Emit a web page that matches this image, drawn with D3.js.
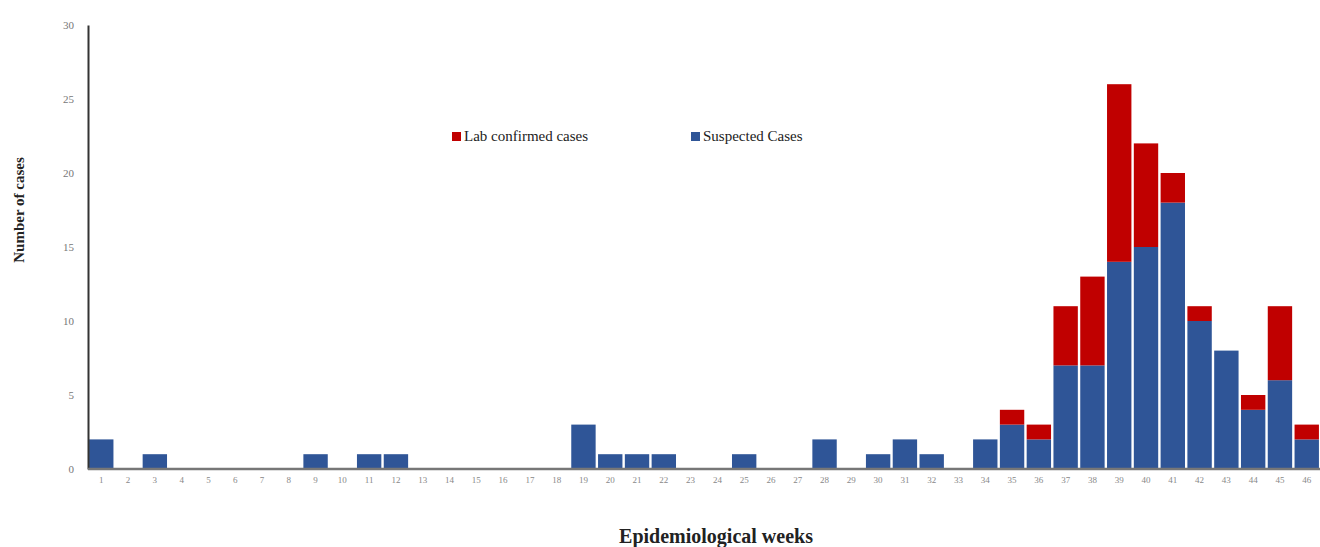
<!DOCTYPE html>
<html>
<head>
<meta charset="utf-8">
<script src="https://d3js.org/d3.v7.min.js"></script>
<style>
  body { margin: 0; background: #fff; }
  svg { display: block; font-family: "Liberation Serif", "DejaVu Serif", serif; }
</style>
</head>
<body>
<svg width="1320" height="547"></svg>
<script>
// epidemiological weeks 1..46
var weeks = d3.range(1, 47);
var suspected = [2,0,1,0,0,0,0,0,1,0, 1,1,0,0,0,0,0,0,3,1, 1,1,0,0,1,0,0,2,0,1,
                 2,1,0,2,3,2,7,7,14,15, 18,10,8,4,6,2];
var confirmed = [0,0,0,0,0,0,0,0,0,0, 0,0,0,0,0,0,0,0,0,0, 0,0,0,0,0,0,0,0,0,0,
                 0,0,0,0,1,1,4,6,12,7, 2,1,0,1,5,1];
var seriesNames = ["Suspected Cases", "Lab confirmed cases"];
var colors = ["#2f5597", "#c00000"];
var yTicks = [0, 5, 10, 15, 20, 25, 30];

var svg = d3.select("svg");
var plotLeft = 88, plotRight = 1320, plotTop = 25, plotBottom = 469;

var x = d3.scaleBand().domain(weeks).range([plotLeft, plotRight]).paddingInner(0.09).paddingOuter(0.04);
var y = d3.scaleLinear().domain([0, 30]).range([plotBottom, plotTop]);

var rows = weeks.map(function(w, i) {
  return { week: w, s: suspected[i], c: confirmed[i] };
});
var stacked = d3.stack().keys(["s", "c"])(rows);

svg.append("g").selectAll("g")
  .data(stacked)
  .join("g")
  .attr("fill", function(d, i) { return colors[i]; })
  .selectAll("rect")
  .data(function(d) { return d; })
  .join("rect")
  .attr("x", function(d) { return x(d.data.week); })
  .attr("width", x.bandwidth())
  .attr("y", function(d) { return y(d[1]); })
  .attr("height", function(d) { return y(d[0]) - y(d[1]); });

// y axis
var yAxis = svg.append("g")
  .attr("transform", "translate(" + plotLeft + ",0)")
  .call(d3.axisLeft(y).tickValues(yTicks).tickSize(0).tickPadding(14));
yAxis.select(".domain").attr("stroke", "#333").attr("stroke-width", 2);
yAxis.selectAll("text").attr("fill", "#777").style("font-size", "11px")
  .style("font-family", "'Liberation Serif', serif");

// x axis
var xAxis = svg.append("g")
  .attr("transform", "translate(0," + plotBottom + ")")
  .call(d3.axisBottom(x).tickSize(0).tickPadding(8));
xAxis.select(".domain").attr("d", "M" + plotLeft + ",0H" + plotRight)
  .attr("stroke", "#777").attr("stroke-width", 2.5);
xAxis.selectAll("text").attr("fill", "#888").style("font-size", "9px")
  .style("font-family", "'Liberation Serif', serif");

// axis titles
svg.append("text")
  .attr("transform", "translate(24,210) rotate(-90)")
  .attr("text-anchor", "middle")
  .style("font-size", "15px").style("font-weight", "bold").attr("fill", "#222")
  .text("Number of cases");

svg.append("text")
  .attr("x", 716).attr("y", 543)
  .attr("text-anchor", "middle")
  .style("font-size", "20px").style("font-weight", "bold").attr("fill", "#222")
  .text("Epidemiological weeks");

// legend
var legend = [
  { name: seriesNames[1], color: colors[1], x: 452 },
  { name: seriesNames[0], color: colors[0], x: 691 }
];
var lg = svg.append("g").selectAll("g").data(legend).join("g")
  .attr("transform", function(d) { return "translate(" + d.x + ",137)"; });
lg.append("rect").attr("x", 0).attr("y", -5).attr("width", 9).attr("height", 9)
  .attr("fill", function(d) { return d.color; });
lg.append("text").attr("x", 12).attr("y", 4)
  .style("font-size", "15px").attr("fill", "#222")
  .text(function(d) { return d.name; });
</script>
</body>
</html>
